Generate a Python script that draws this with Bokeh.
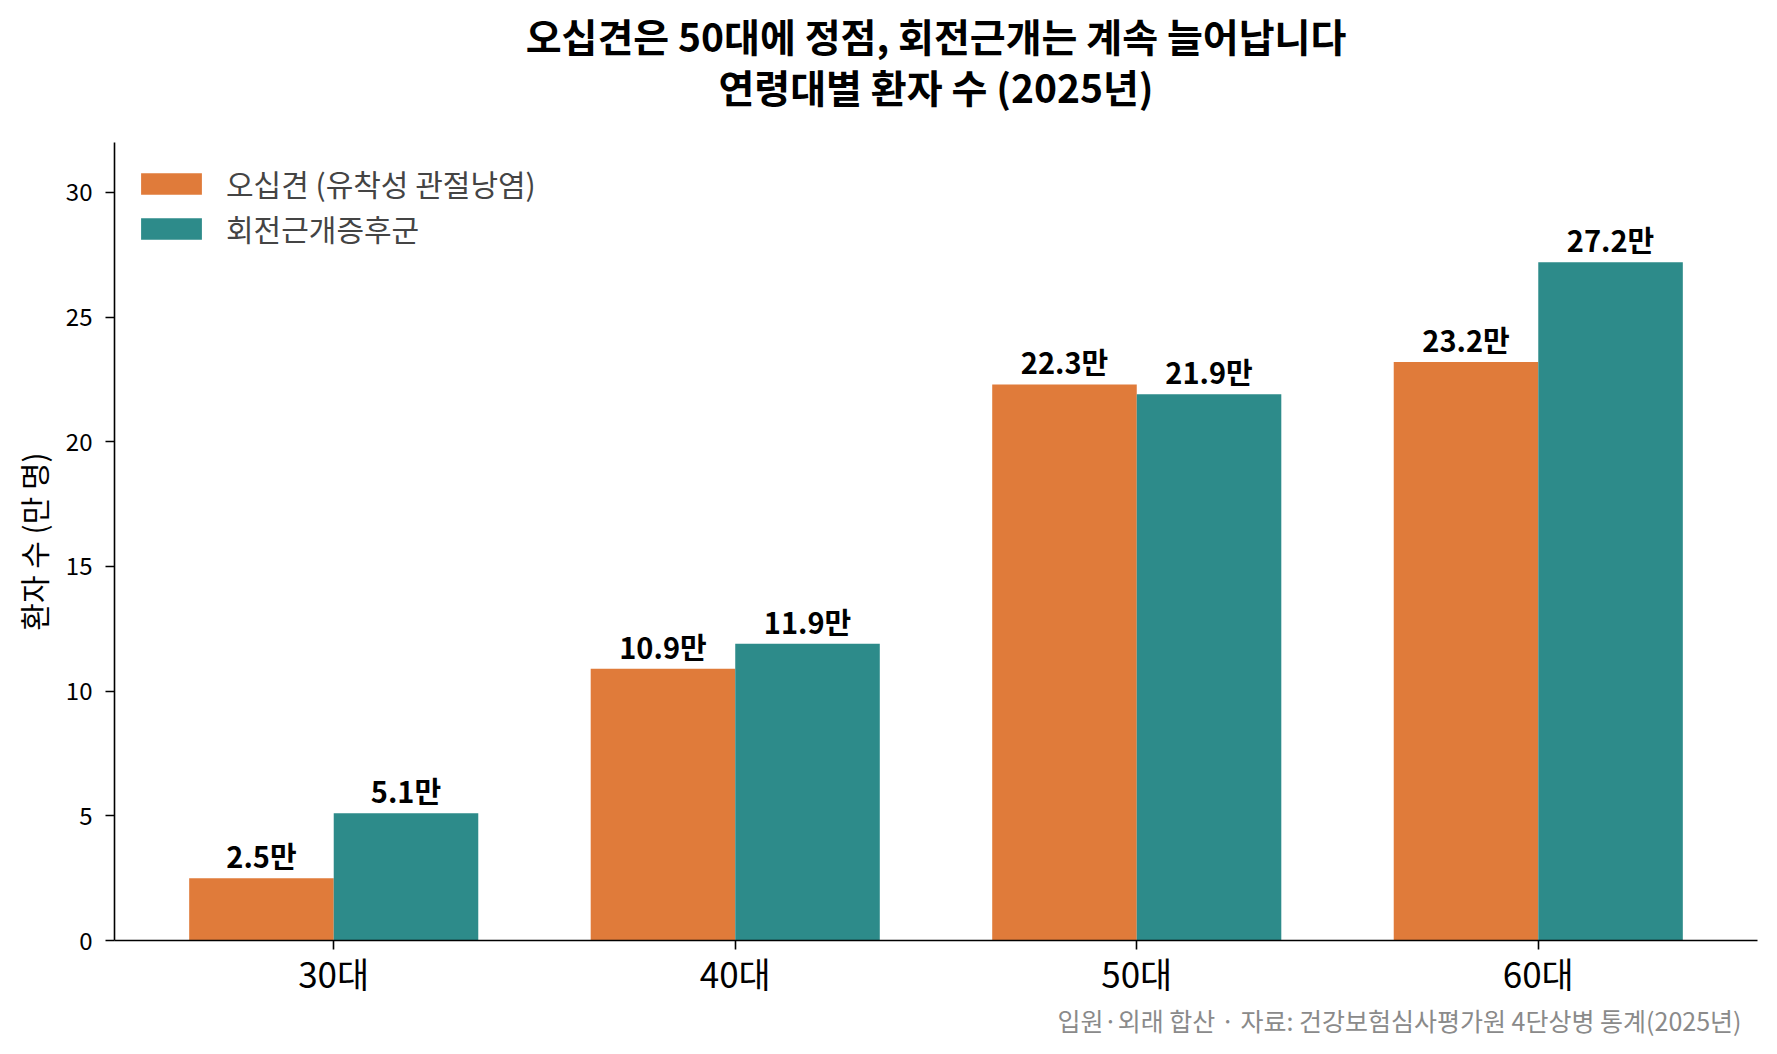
from bokeh.plotting import figure
from bokeh.models import (ColumnDataSource, Range1d, FixedTicker, Legend,
                          LegendItem, Title)
from bokeh.core.properties import value
from bokeh.embed import file_html
from bokeh.resources import INLINE
import numpy as np

ages = ["30대", "40대", "50대", "60대"]
frozen_shoulder = [2.5, 10.9, 22.3, 23.2]
rotator_cuff = [5.1, 11.9, 21.9, 27.2]
y_ticks = [0, 5, 10, 15, 20, 25, 30]

series_names = ["오십견 (유착성 관절낭염)", "회전근개증후군"]
title_lines = ["오십견은 50대에 정점, 회전근개는 계속 늘어납니다",
               "연령대별 환자 수 (2025년)"]
note_text = "입원·외래 합산 · 자료: 건강보험심사평가원 4단상병 통계(2025년)"

FONT = "Noto Sans CJK KR"
ORANGE = "#E07B3A"
TEAL = "#2D8B8A"
BAR_W = 0.36

idx = np.arange(len(ages))

p = figure(
    title=None,
    width=1761, height=1036,
    output_backend="svg", toolbar_location=None,
    x_range=Range1d(-0.546, len(ages) - 1 + 0.546),
    y_range=Range1d(0, 32),
    min_border_left=114, min_border_right=4,
    min_border_top=142, min_border_bottom=0,
)
p.outline_line_color = None
p.xgrid.grid_line_color = None
p.ygrid.grid_line_color = None

# two title lines, closest to the plot first
p.add_layout(Title(text=title_lines[1], align="center", text_font=FONT,
                   text_font_size="39px", text_font_style="bold",
                   text_color="black", standoff=57), "above")
p.add_layout(Title(text=title_lines[0], align="center", text_font=FONT,
                   text_font_size="39px", text_font_style="bold",
                   text_color="black", standoff=-71), "above")

src_a = ColumnDataSource(dict(
    x=idx - BAR_W / 2, top=frozen_shoulder,
    label=[f"{v}만" for v in frozen_shoulder]))
src_b = ColumnDataSource(dict(
    x=idx + BAR_W / 2, top=rotator_cuff,
    label=[f"{v}만" for v in rotator_cuff]))

r_a = p.vbar(x="x", top="top", width=BAR_W, source=src_a,
             fill_color=ORANGE, line_color=None)
r_b = p.vbar(x="x", top="top", width=BAR_W, source=src_b,
             fill_color=TEAL, line_color=None)

for src in (src_a, src_b):
    p.text(x="x", y="top", text="label", source=src,
           text_align="center", text_baseline="bottom", y_offset=-2,
           text_font=value(FONT), text_font_size="29px",
           text_font_style="bold", text_color="black")

# axes
p.xaxis.ticker = FixedTicker(ticks=list(idx))
p.xaxis.major_label_overrides = {int(i): a for i, a in zip(idx, ages)}
p.xaxis.major_label_text_font = FONT
p.xaxis.major_label_text_font_size = "35px"
p.xaxis.major_label_standoff = -3
p.yaxis.ticker = FixedTicker(ticks=y_ticks)
p.yaxis.major_label_text_font = FONT
p.yaxis.major_label_text_font_size = "24px"
p.yaxis.major_label_standoff = 13
p.yaxis.axis_label = "환자 수 (만 명)"
p.yaxis.axis_label_text_font = FONT
p.yaxis.axis_label_text_font_size = "30px"
p.yaxis.axis_label_text_font_style = "normal"
p.yaxis.axis_label_text_color = "black"
p.yaxis.axis_label_standoff = 8
for ax in (p.xaxis, p.yaxis):
    ax.axis_line_width = 1.6
    ax.axis_line_color = "black"
    ax.major_tick_line_width = 1.6
    ax.major_tick_line_color = "black"
    ax.major_tick_out = 9
    ax.major_tick_in = 0
    ax.minor_tick_line_color = None
    ax.major_label_text_color = "black"

legend = Legend(
    items=[LegendItem(label=series_names[0], renderers=[r_a]),
           LegendItem(label=series_names[1], renderers=[r_b])],
    location="top_left",
    glyph_width=76, glyph_height=27,
    label_text_font=FONT, label_text_font_size="30px",
    label_standoff=17, spacing=1, padding=0, margin=19,
    background_fill_alpha=0, border_line_color=None,
)
p.add_layout(legend)

p.add_layout(Title(text=note_text, align="right", text_font=FONT,
                   text_font_size="25px", text_font_style="normal",
                   text_color="#8a8a8a", offset=16, standoff=-2), "below")

open("out.html", "w").write(file_html(p, INLINE))
